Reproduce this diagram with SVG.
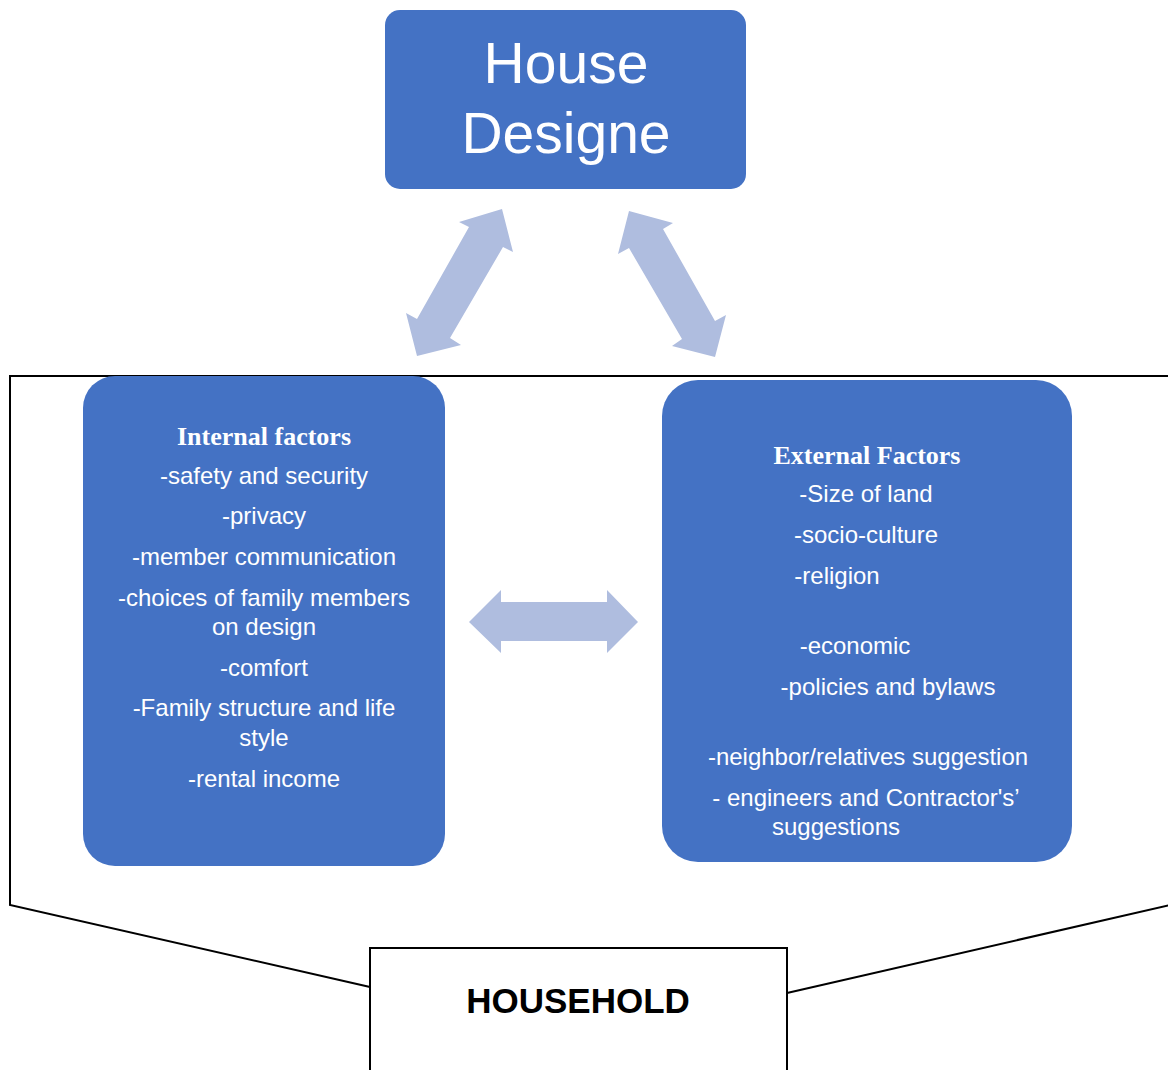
<svg xmlns="http://www.w3.org/2000/svg" width="1168" height="1070" viewBox="0 0 1168 1070">
<style>
.box{fill:#4472C4}
.arr{fill:#AFBDDF}
.ln{fill:none;stroke:#000;stroke-width:2}
.t{font-family:"Liberation Sans",Arial,sans-serif;font-size:24px;fill:#fff;text-anchor:middle}
.h{font-family:"Liberation Serif","Times New Roman",serif;font-size:26px;font-weight:bold;fill:#fff;text-anchor:middle}
.big{font-family:"Liberation Sans",Arial,sans-serif;font-size:57px;fill:#fff;text-anchor:middle}
</style>
<rect width="1168" height="1070" fill="#fff"/>
<g id="household-frame">
<polyline class="ln" points="1170,376 10,376 10,905 370,987"/>
<polyline class="ln" points="787,993 1170,905"/>
</g>
<g id="connectors">
<polygon class="arr" points="502,209 513,252 503,247 450,338 461,345 417,356 406,313 417,319 469,227 459,222"/>
<polygon class="arr" points="629,211 673,223 663,229 715,321 726,315 715,357 672,346 682,339 629,248 618,254"/>
<polygon class="arr" points="469,622 501,590 501,602 607,602 607,590 638,622 607,653 607,641 501,641 501,653"/>
</g>
<g id="house-designe">
<rect class="box" x="385" y="10" width="361" height="179" rx="15"/>
<text class="big" x="566" y="83">House</text>
<text class="big" x="566" y="153">Designe</text>
</g>
<g id="internal-factors">
<rect class="box" x="83" y="376" width="362" height="490" rx="32"/>
<text class="h" x="264" y="445">Internal factors</text>
<text class="t" x="264" y="484">-safety and security</text>
<text class="t" x="264" y="524">-privacy</text>
<text class="t" x="264" y="565">-member communication</text>
<text class="t" x="264" y="606">-choices of family members</text>
<text class="t" x="264" y="635">on design</text>
<text class="t" x="264" y="676">-comfort</text>
<text class="t" x="264" y="716">-Family structure and life</text>
<text class="t" x="264" y="746">style</text>
<text class="t" x="264" y="787">-rental income</text>
</g>
<g id="external-factors">
<rect class="box" x="662" y="380" width="410" height="482" rx="36"/>
<text class="h" x="867" y="464">External Factors</text>
<text class="t" x="866" y="502">-Size of land</text>
<text class="t" x="866" y="543">-socio-culture</text>
<text class="t" x="837" y="584">-religion</text>
<text class="t" x="855" y="654">-economic</text>
<text class="t" x="888" y="695">-policies and bylaws</text>
<text class="t" x="868" y="765">-neighbor/relatives suggestion</text>
<text class="t" x="866" y="806">- engineers and Contractor's’</text>
<text class="t" x="836" y="835">suggestions</text>
</g>
<g id="household">
<rect x="370" y="948" width="417" height="130" fill="#fff" stroke="#000" stroke-width="2"/>
<text x="578" y="1013" font-family="'Liberation Sans',Arial,sans-serif" font-size="35" font-weight="bold" text-anchor="middle" fill="#000">HOUSEHOLD</text>
</g>
</svg>
